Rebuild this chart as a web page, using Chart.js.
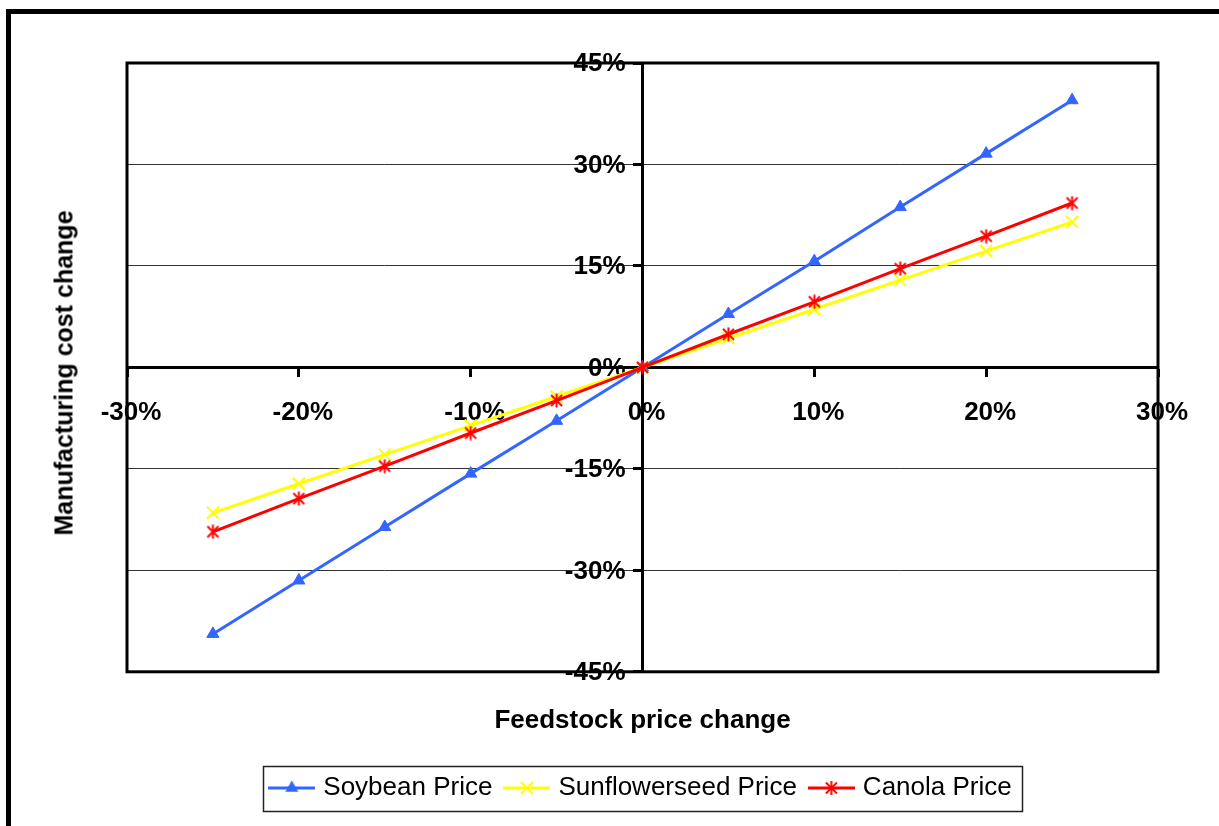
<!DOCTYPE html>
<html>
<head>
<meta charset="utf-8">
<script src="https://cdn.jsdelivr.net/npm/chart.js@4/dist/chart.umd.min.js"></script>
<style>
  html, body { margin: 0; padding: 0; background: #fff; overflow: hidden; width: 1219px; height: 826px; }
  #frame { position: absolute; left: 6px; top: 9px; width: 1400px; height: 1000px;
           border-left: 5px solid #000; border-top: 5px solid #000; box-sizing: border-box; }
  #wrap { position: absolute; left: 0; top: 0; width: 1219px; height: 826px; }
  #ytitle { position: absolute; left: 64px; top: 373px; transform: translate(-50%, -50%) rotate(-90deg);
            font: bold 25px 'Liberation Sans', Arial, sans-serif; white-space: nowrap; color: #000; }
</style>
</head>
<body>
<div id="frame"></div>
<div id="wrap"><canvas id="chart"></canvas></div>
<div id="ytitle"></div>
<script>
// Feedstock price change (%) and resulting manufacturing cost change (%)
const feedstockChange = [-25, -20, -15, -10, -5, 0, 5, 10, 15, 20, 25];
const soybeanCost       = [-39.4, -31.5, -23.6, -15.7, -7.9, 0, 7.9, 15.7, 23.7, 31.6, 39.5];
const sunflowerseedCost = [-21.5, -17.2, -12.9, -8.6, -4.3, 0, 4.3, 8.6, 12.9, 17.2, 21.5];
const canolaCost        = [-24.3, -19.4, -14.6, -9.7, -4.9, 0, 4.9, 9.7, 14.6, 19.4, 24.3];

const seriesNames = ['Soybean Price', 'Sunflowerseed Price', 'Canola Price'];
const seriesColors = ['#3366FF', '#FFFF00', '#FF0000'];
const xTickValues = [-30, -20, -10, 0, 10, 20, 30];
const yTickValues = [-45, -30, -15, 0, 15, 30, 45];
const xAxisTitle = 'Feedstock price change';
const yAxisTitle = 'Manufacturing cost change';

const FONT_FAMILY = "'Liberation Sans', Arial, sans-serif";
const pct = v => v + '%';

document.getElementById('ytitle').textContent = yAxisTitle;

// Small canvas symbols: markers, optionally with a line segment behind (for the legend)
function symbolCanvas(kind, color, w, h, withLine) {
  const c = document.createElement('canvas');
  c.width = w; c.height = h;
  const g = c.getContext('2d');
  const cx = w / 2, cy = h / 2;
  g.strokeStyle = color; g.fillStyle = color;
  function seg(x1, y1, x2, y2) { g.beginPath(); g.moveTo(x1, y1); g.lineTo(x2, y2); g.stroke(); }
  if (withLine) { g.lineWidth = 3; seg(0, cy, w, cy); }
  g.lineWidth = 2;
  if (kind === 'triangle') {
    const r = 7.5;
    g.beginPath();
    g.moveTo(cx, cy - r);
    g.lineTo(cx + r * 0.866, cy + r * 0.5);
    g.lineTo(cx - r * 0.866, cy + r * 0.5);
    g.closePath(); g.fill();
  } else if (kind === 'x') {
    const d = 6;
    seg(cx - d, cy - d, cx + d, cy + d); seg(cx + d, cy - d, cx - d, cy + d);
  } else if (kind === 'asterisk') {
    const d = 5.5;
    seg(cx - d, cy - d, cx + d, cy + d); seg(cx + d, cy - d, cx - d, cy + d);
    seg(cx, cy - 7, cx, cy + 7);
  }
  return c;
}

const markerKinds = ['triangle', 'x', 'asterisk'];
const legendIcons = markerKinds.map((k, i) => symbolCanvas(k, seriesColors[i], 47, 18, true));
const canolaMarker = symbolCanvas('asterisk', seriesColors[2], 15, 15, false);

const pts = ys => feedstockChange.map((x, i) => ({ x: x, y: ys[i] }));

// Y tick labels sit to the left of the vertical axis (which crosses at x = 0)
const yLabelPlugin = {
  id: 'yLabelPlugin',
  beforeDatasetsDraw(chart) {
    const { ctx } = chart;
    const xs = chart.scales.x, ys = chart.scales.y;
    const axisX = xs.getPixelForValue(0);
    ctx.save();
    ctx.font = 'bold 26px ' + FONT_FAMILY;
    ctx.fillStyle = '#000';
    ctx.textAlign = 'right';
    ctx.textBaseline = 'middle';
    ys.ticks.forEach(t => ctx.fillText(pct(t.value), axisX - 17, ys.getPixelForValue(t.value) + 1));
    ctx.restore();
  }
};

// Frame around the plot area and box around the legend
const framePlugin = {
  id: 'framePlugin',
  afterDraw(chart) {
    const { ctx, chartArea: a } = chart;
    ctx.save();
    ctx.strokeStyle = '#000';
    ctx.lineWidth = 3;
    ctx.strokeRect(a.left, a.top, a.right - a.left, a.bottom - a.top);
    const hb = chart.legend && chart.legend.legendHitBoxes;
    if (hb && hb.length) {
      const first = hb[0], last = hb[hb.length - 1];
      const cy = first.top + first.height / 2;
      const x0 = first.left - 10, x1 = last.left + last.width + 11;
      ctx.lineWidth = 1.5;
      ctx.strokeStyle = '#222';
      ctx.strokeRect(Math.round(x0) + 0.5, Math.round(cy - 22) + 0.5, Math.round(x1 - x0), 45);
    }
    ctx.restore();
  }
};

Chart.defaults.font.family = FONT_FAMILY;
Chart.defaults.color = '#000';

new Chart(document.getElementById('chart'), {
  type: 'line',
  data: {
    datasets: [
      {
        label: seriesNames[0], data: pts(soybeanCost),
        borderColor: seriesColors[0], backgroundColor: seriesColors[0], borderWidth: 3,
        pointStyle: 'triangle', pointRadius: 7, pointBorderWidth: 1,
        pointBackgroundColor: seriesColors[0], pointBorderColor: seriesColors[0],
        tension: 0, order: 3
      },
      {
        label: seriesNames[1], data: pts(sunflowerseedCost),
        borderColor: seriesColors[1], backgroundColor: seriesColors[1], borderWidth: 3,
        pointStyle: 'crossRot', pointRadius: 8.5, pointBorderWidth: 2,
        pointBorderColor: seriesColors[1],
        tension: 0, order: 2
      },
      {
        label: seriesNames[2], data: pts(canolaCost),
        borderColor: seriesColors[2], backgroundColor: seriesColors[2], borderWidth: 3,
        pointStyle: canolaMarker, pointRadius: 7,
        tension: 0, order: 1
      }
    ]
  },
  options: {
    responsive: true,
    maintainAspectRatio: false,
    animation: false,
    layout: { padding: { left: 127, top: 63, right: 61, bottom: 15 } },
    scales: {
      x: {
        type: 'linear', position: { y: 0 }, min: -30, max: 30,
        afterBuildTicks: s => { s.ticks = xTickValues.map(v => ({ value: v })); },
        grid: { drawOnChartArea: false, drawTicks: true, tickLength: 8, tickWidth: 3, tickColor: '#000' },
        border: { display: true, color: '#000', width: 3 },
        ticks: {
          font: { size: 26, weight: 'bold' }, color: '#000', padding: 22, labelOffset: 4,
          maxRotation: 0, autoSkip: false, callback: v => pct(v)
        }
      },
      y: {
        type: 'linear', position: { x: 0 }, min: -45, max: 45,
        afterBuildTicks: s => { s.ticks = yTickValues.map(v => ({ value: v })); },
        grid: { color: '#333', lineWidth: 1, drawTicks: true, tickLength: 8, tickWidth: 3, tickColor: '#000' },
        border: { display: true, color: '#000', width: 3 },
        ticks: { display: false, autoSkip: false }
      }
    },
    plugins: {
      legend: {
        position: 'bottom', fullSize: false, weight: 1000,
        labels: {
          usePointStyle: true, pointStyleWidth: 37, padding: 16,
          font: { size: 26 }, color: '#000',
          generateLabels: chart => chart.data.datasets.map((ds, i) => ({
            text: ds.label, pointStyle: legendIcons[i], fillStyle: ds.borderColor,
            strokeStyle: ds.borderColor, lineWidth: 0, hidden: false, datasetIndex: i, fontColor: '#000'
          }))
        }
      },
      title: {
        display: true, text: xAxisTitle, position: 'bottom', fullSize: false, weight: 500,
        font: { size: 26, weight: 'bold' }, color: '#000', padding: { top: 33, bottom: 23 }
      },
      tooltip: { enabled: false }
    }
  },
  plugins: [yLabelPlugin, framePlugin]
});
</script>
</body>
</html>
